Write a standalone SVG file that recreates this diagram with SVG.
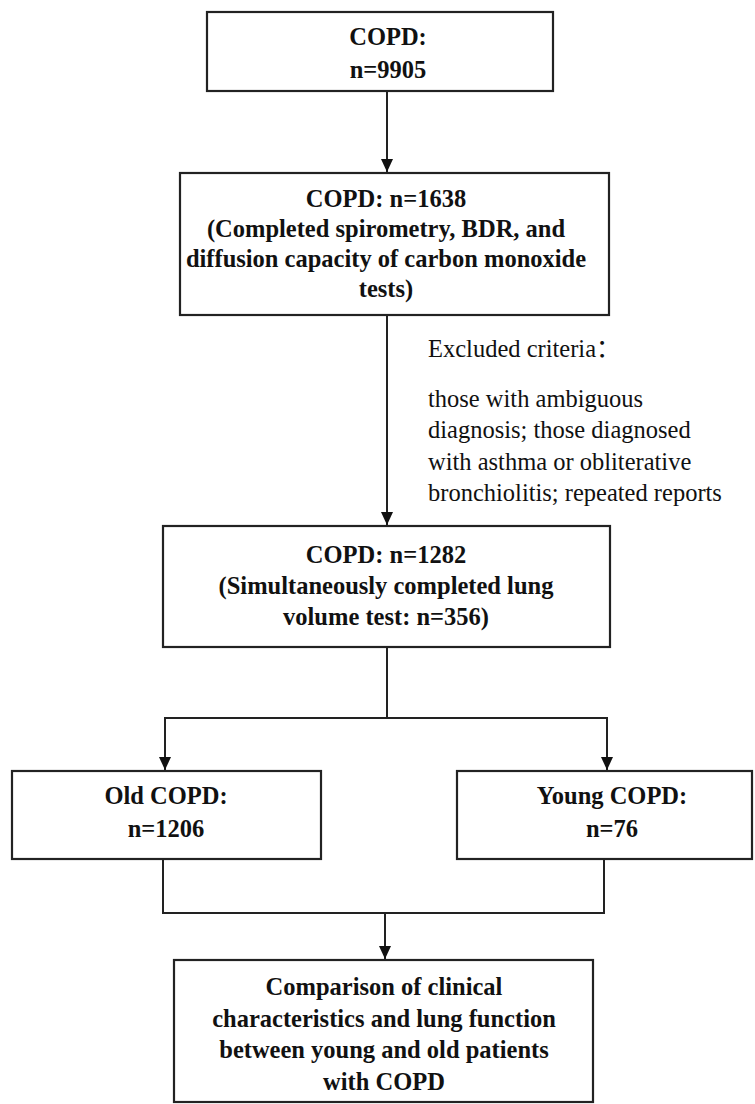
<svg xmlns="http://www.w3.org/2000/svg" width="755" height="1104" viewBox="0 0 755 1104">
<defs>
<marker id="arr" markerWidth="13" markerHeight="12" refX="13" refY="6" orient="auto" markerUnits="userSpaceOnUse" viewBox="0 0 13 12">
<path d="M0,0 L13,6 L0,12 Z" fill="#111"/>
</marker>
<style>
.box{fill:#fff;stroke:#222;stroke-width:2.2}
.t{font-family:"Liberation Serif","Times New Roman",serif;font-weight:bold;font-size:24.5px;fill:#111;text-anchor:middle}
.r{font-family:"Liberation Serif","Times New Roman","Noto Sans CJK SC",serif;font-size:24.5px;fill:#111}
.ln{fill:none;stroke:#222;stroke-width:2}
</style>
</defs>
<rect width="755" height="1104" fill="#fff"/>
<g id="connectors">
<path class="ln" d="M387,91 V172" marker-end="url(#arr)"/>
<path class="ln" d="M387,315 V525" marker-end="url(#arr)"/>
<path class="ln" d="M387,647 V718 M164,718 H608"/>
<path class="ln" d="M165,718 V770" marker-end="url(#arr)"/>
<path class="ln" d="M607,718 V770" marker-end="url(#arr)"/>
<path class="ln" d="M163,859 V913 M604,859 V913 M162,913 H605"/>
<path class="ln" d="M385,913 V959" marker-end="url(#arr)"/>
</g>
<g id="n1">
<rect class="box" x="207" y="12" width="346" height="79"/>
<text class="t" x="388" y="45">COPD:</text>
<text class="t" x="388" y="78">n=9905</text>
</g>
<g id="n2">
<rect class="box" x="180" y="173" width="429" height="142"/>
<text class="t" x="386" y="207">COPD: n=1638</text>
<text class="t" x="386" y="237">(Completed spirometry, BDR, and</text>
<text class="t" x="386" y="267">diffusion capacity of carbon monoxide</text>
<text class="t" x="386" y="297">tests)</text>
</g>
<g id="exclusion">
<text class="r" x="428" y="357">Excluded criteria：</text>
<text class="r" x="428" y="407">those with ambiguous</text>
<text class="r" x="428" y="438">diagnosis; those diagnosed</text>
<text class="r" x="428" y="470">with asthma or obliterative</text>
<text class="r" x="428" y="501">bronchiolitis; repeated reports</text>
</g>
<g id="n3">
<rect class="box" x="163" y="526" width="447" height="121"/>
<text class="t" x="386" y="563">COPD: n=1282</text>
<text class="t" x="386" y="594">(Simultaneously completed lung</text>
<text class="t" x="386" y="625">volume test: n=356)</text>
</g>
<g id="n4">
<rect class="box" x="12" y="771" width="309" height="88"/>
<text class="t" x="166" y="804">Old COPD:</text>
<text class="t" x="166" y="837">n=1206</text>
</g>
<g id="n5">
<rect class="box" x="457" y="771" width="295" height="88"/>
<text class="t" x="612" y="804">Young COPD:</text>
<text class="t" x="612" y="837">n=76</text>
</g>
<g id="n6">
<rect class="box" x="174" y="960" width="419" height="142"/>
<text class="t" x="384" y="995">Comparison of clinical</text>
<text class="t" x="384" y="1027">characteristics and lung function</text>
<text class="t" x="384" y="1058">between young and old patients</text>
<text class="t" x="384" y="1090">with COPD</text>
</g>
</svg>
